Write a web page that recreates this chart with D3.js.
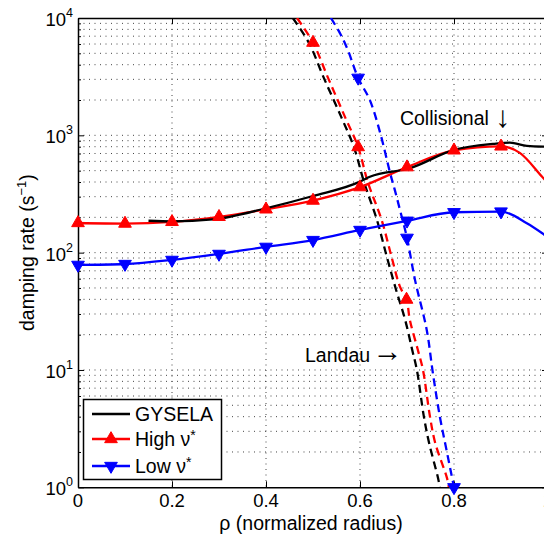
<!DOCTYPE html>
<html><head><meta charset="utf-8">
<script src="https://cdn.jsdelivr.net/npm/d3@7"></script>
<style>
html,body{margin:0;padding:0;background:#fff;}
svg{display:block;font-family:"Liberation Sans",Arial,Helvetica,sans-serif;}
</style></head>
<body>
<svg id="c" width="544" height="541"></svg>
<script>
// ---- data (rho, damping rate) ----
const gyselaSolidRho = [0.15, 0.2, 0.287, 0.4, 0.5, 0.6, 0.621, 0.706, 0.8, 0.883, 0.919, 0.955, 0.99, 1.0];
const gyselaSolidVal = [187, 185, 192, 239, 304, 403, 444, 524, 751, 845, 867, 813, 801, 800];

const highSolidRho = [0, 0.1, 0.2, 0.3, 0.4, 0.5, 0.6, 0.7, 0.8, 0.9, 0.94, 0.987, 1.0];
const highSolidVal = [179, 177, 183, 202, 234, 278, 362, 535, 745, 805, 708, 445, 390];
const highMarkerRho = [0, 0.1, 0.2, 0.3, 0.4, 0.5, 0.6, 0.7, 0.8, 0.9];

const lowSolidRho = [0, 0.1, 0.2, 0.3, 0.4, 0.5, 0.6, 0.7, 0.8, 0.9, 0.955, 0.987, 1.0];
const lowSolidVal = [78.6, 80, 86.7, 97.5, 112, 128, 156, 187, 221, 224, 178, 147, 135];
const lowMarkerRho = [0, 0.1, 0.2, 0.3, 0.4, 0.5, 0.6, 0.7, 0.8, 0.9];

const gyselaDashRho = [0.457, 0.491, 0.523, 0.560, 0.587, 0.609, 0.636, 0.657, 0.677, 0.696, 0.711, 0.721, 0.736, 0.747, 0.766, 0.770];
const gyselaDashLog = [4.0, 3.79, 3.49, 3.157, 2.90, 2.596, 2.279, 1.966, 1.68, 1.428, 1.172, 1.0, 0.6, 0.378, 0.08, 0.0];

const highDashRho = [0.466, 0.5, 0.532, 0.568, 0.596, 0.617, 0.646, 0.667, 0.685, 0.699, 0.706, 0.723, 0.734, 0.749, 0.760, 0.785, 0.789];
const highDashLog = [4.0, 3.79, 3.49, 3.157, 2.90, 2.596, 2.279, 1.966, 1.71, 1.60, 1.428, 1.172, 1.0, 0.6, 0.378, 0.08, 0.0];
const highDashMarkerIdx = [1, 4, 9];

const lowDashRho = [0.538, 0.557, 0.574, 0.596, 0.621, 0.643, 0.664, 0.674, 0.685, 0.7, 0.717, 0.742, 0.755, 0.770, 0.784, 0.8];
const lowDashLog = [4.0, 3.873, 3.728, 3.49, 3.30, 3.02, 2.68, 2.535, 2.365, 2.126, 1.768, 1.341, 0.975, 0.6, 0.319, 0.0];
const lowDashMarkerIdx = [3, 9, 15];

const xTicks = [0, 0.2, 0.4, 0.6, 0.8, 1];
const xTickLabels = ["0", "0.2", "0.4", "0.6", "0.8", "1"];
const yTicks = [1, 10, 100, 1000, 10000];
const yTickExps = ["0", "1", "2", "3", "4"];
const legendLabels = ["GYSELA", "High ν", "Low ν"];
const annotations = [
  {text: "Collisional", arrow: "↓", rho: 0.685, val: 1230, ady: 2, adx: 1},
  {text: "Landau", arrow: "→", rho: 0.483, val: 11.8, ady: -1, adx: -3}
];

// ---- layout ----
const L = 78, R = 548, T = 18, B = 487.3;
const svg = d3.select("#c");
const x = d3.scaleLinear().domain([0, 1]).range([L, R]);
const y = d3.scaleLog().domain([1, 1e4]).range([B, T]);

svg.append("defs").append("clipPath").attr("id", "pc")
  .append("rect").attr("x", L).attr("y", T).attr("width", R - L).attr("height", B - T);

// grid
const gridG = svg.append("g");
const minorVals = [];
for (let e = 0; e < 4; e++) for (let m = 1; m <= 9; m++) { const v = m * Math.pow(10, e); if (v > 1) minorVals.push(v); }
gridG.selectAll("line.hy").data(minorVals).join("line")
  .attr("x1", L).attr("x2", R).attr("y1", d => y(d)).attr("y2", d => y(d))
  .attr("stroke", "#444").attr("stroke-width", 1).attr("stroke-dasharray", "1,4.5");
gridG.selectAll("line.vx").data(xTicks.slice(1, 5)).join("line")
  .attr("y1", T).attr("y2", B).attr("x1", d => x(d)).attr("x2", d => x(d))
  .attr("stroke", "#444").attr("stroke-width", 1).attr("stroke-dasharray", "1,4.5");

// axes via d3
const minorTickVals = minorVals.filter(v => !yTicks.includes(v));
function yAxisInward(sel, orient) {
  const ax = (orient === "left" ? d3.axisLeft(y) : d3.axisRight(y)).tickValues(yTicks).tickFormat("").tickSizeInner(-6).tickSizeOuter(0);
  sel.call(ax);
  const axm = (orient === "left" ? d3.axisLeft(y) : d3.axisRight(y)).tickValues(minorTickVals).tickFormat("").tickSizeInner(-3).tickSizeOuter(0);
  sel.append("g").call(axm).select(".domain").remove();
}
const gl = svg.append("g").attr("transform", `translate(${L},0)`); yAxisInward(gl, "left");
const gr = svg.append("g").attr("transform", `translate(${R},0)`); yAxisInward(gr, "right");
const gb = svg.append("g").attr("transform", `translate(0,${B})`)
  .call(d3.axisBottom(x).tickValues(xTicks).tickFormat("").tickSizeInner(-6).tickSizeOuter(0));
const gt = svg.append("g").attr("transform", `translate(0,${T})`)
  .call(d3.axisTop(x).tickValues(xTicks).tickFormat("").tickSizeInner(-6).tickSizeOuter(0));
svg.selectAll(".domain").attr("stroke", "#000").attr("stroke-width", 1.5);
svg.selectAll(".tick line").attr("stroke", "#000").attr("stroke-width", 1);

// tick labels
svg.append("g").selectAll("text").data(xTicks).join("text")
  .attr("x", d => x(d)).attr("y", B + 20).attr("text-anchor", "middle")
  .attr("font-size", 18.5).text((d, i) => xTickLabels[i]);
const yl = svg.append("g").selectAll("text").data(yTicks).join("text")
  .attr("x", L - 5).attr("y", d => y(d) + 8).attr("text-anchor", "end").attr("font-size", 18.5);
yl.append("tspan").text("10");
yl.append("tspan").attr("dy", -9).attr("font-size", 12.5).text((d, i) => yTickExps[i]);

// axis titles
const xt = svg.append("text").attr("x", (L + R) / 2 - 2).attr("y", 530).attr("text-anchor", "middle").attr("font-size", 19.5);
xt.text("ρ (normalized radius)");
const yt = svg.append("text").attr("transform", `translate(34,${(T + B) / 2}) rotate(-90)`).attr("text-anchor", "middle").attr("font-size", 19.5);
yt.append("tspan").text("damping rate (s");
yt.append("tspan").attr("dy", -8).attr("font-size", 13).text("−1");
yt.append("tspan").attr("dy", 8).text(")");

// curves
const plot = svg.append("g").attr("clip-path", "url(#pc)");
const lineGen = d3.line().x(d => x(d[0])).y(d => y(d[1])).curve(d3.curveMonotoneX);
const zip = (a, b) => a.map((v, i) => [v, b[i]]);
const zipLog = (a, b) => a.map((v, i) => [v, Math.pow(10, b[i])]);

const gyDash = zipLog(gyselaDashRho, gyselaDashLog);
const hiDash = zipLog(highDashRho, highDashLog);
const loDash = zipLog(lowDashRho, lowDashLog);
const lineGenD = d3.line().x(d => x(d[0])).y(d => y(Math.max(d[1], 1))).curve(d3.curveCatmullRom);

plot.append("path").attr("d", lineGenD(loDash)).attr("fill", "none").attr("stroke", "#0000ff").attr("stroke-width", 2.3).attr("stroke-dasharray", "8,5");
plot.append("path").attr("d", lineGenD(hiDash)).attr("fill", "none").attr("stroke", "#ff0000").attr("stroke-width", 2.3).attr("stroke-dasharray", "8,5");
plot.append("path").attr("d", lineGenD(gyDash)).attr("fill", "none").attr("stroke", "#000").attr("stroke-width", 2.3).attr("stroke-dasharray", "8,5");

const loS = zip(lowSolidRho, lowSolidVal);
const hiS = zip(highSolidRho, highSolidVal);
const gyS = zip(gyselaSolidRho, gyselaSolidVal);
plot.append("path").attr("d", lineGen(loS)).attr("fill", "none").attr("stroke", "#0000ff").attr("stroke-width", 2.3);
plot.append("path").attr("d", lineGen(hiS)).attr("fill", "none").attr("stroke", "#ff0000").attr("stroke-width", 2.3);
plot.append("path").attr("d", lineGen(gyS)).attr("fill", "none").attr("stroke", "#000").attr("stroke-width", 2.3);

const triUp = d3.symbol().type(d3.symbolTriangle).size(70);
function markers(pts, color, down) {
  svg.append("g").selectAll("path").data(pts).join("path")
    .attr("d", triUp())
    .attr("transform", d => `translate(${x(d[0])},${y(d[1])})${down ? " rotate(180)" : ""}`)
    .attr("fill", color).attr("stroke", color).attr("stroke-width", 1);
}
markers(highMarkerRho.map(r => hiS.find(p => p[0] === r)), "#ff0000", false);
markers(highDashMarkerIdx.map(i => hiDash[i]), "#ff0000", false);
markers(lowMarkerRho.map(r => loS.find(p => p[0] === r)), "#0000ff", true);
markers(lowDashMarkerIdx.map(i => loDash[i]), "#0000ff", true);

// annotations
const an = svg.append("g").selectAll("text").data(annotations).join("text")
  .attr("x", d => x(d.rho)).attr("y", d => y(d.val)).attr("font-size", 19.5);
an.append("tspan").text(d => d.text + " ");
an.append("tspan").attr("font-size", 30).attr("dx", d => d.adx).attr("dy", d => d.ady).text(d => d.arrow);

// legend
const lg = svg.append("g");
lg.append("rect").attr("x", 83.5).attr("y", 399.5).attr("width", 138).attr("height", 80)
  .attr("fill", "#fff").attr("stroke", "#000").attr("stroke-width", 1.5);
const legColors = ["#000", "#ff0000", "#0000ff"];
const legY = [414, 439, 466];
legendLabels.forEach((lab, i) => {
  lg.append("line").attr("x1", 92).attr("x2", 130).attr("y1", legY[i]).attr("y2", legY[i])
    .attr("stroke", legColors[i]).attr("stroke-width", 2.3);
  if (i > 0) {
    lg.append("path").attr("d", triUp())
      .attr("transform", `translate(111,${legY[i]})${i === 2 ? " rotate(180)" : ""}`)
      .attr("fill", legColors[i]).attr("stroke", legColors[i]);
  }
  const t = lg.append("text").attr("x", 135).attr("y", legY[i] + 7).attr("font-size", 19.5);
  t.append("tspan").text(lab);
  if (i > 0) t.append("tspan").attr("dy", -6).attr("font-size", 14).text("*");
});
</script>
</body></html>
